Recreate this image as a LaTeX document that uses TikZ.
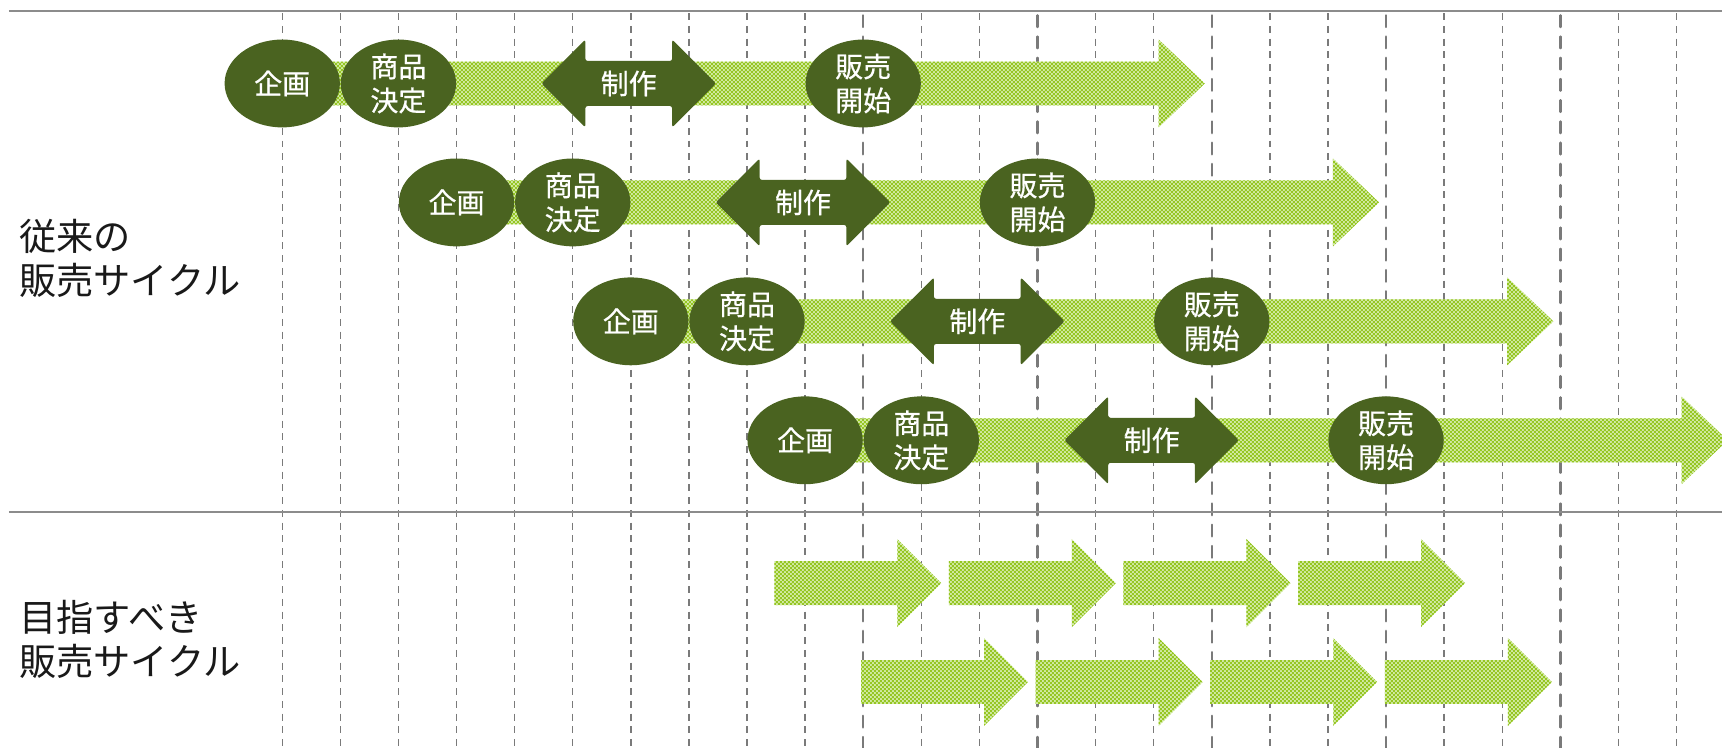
\documentclass[tikz,border=0pt]{standalone}
\usepackage{fontspec}
\setmainfont{Noto Sans CJK JP}
\newfontfamily\blobfont[FakeBold=0.6]{Noto Sans CJK JP}
\usetikzlibrary{patterns,shapes.geometric}
\definecolor{dkgreen}{HTML}{4A6320}
\definecolor{chkdark}{HTML}{96C623}
\definecolor{chklight}{HTML}{D2EAA4}
\definecolor{gridgray}{HTML}{7A7A7A}
\definecolor{rulegray}{HTML}{8C8C8C}
\pgfdeclarepatternformonly{finecheck}{\pgfpointorigin}{\pgfqpoint{2.07pt}{2.07pt}}{\pgfqpoint{2.07pt}{2.07pt}}{%
  \pgfpathrectangle{\pgfpointorigin}{\pgfqpoint{1.035pt}{1.035pt}}%
  \pgfpathrectangle{\pgfqpoint{1.035pt}{1.035pt}}{\pgfqpoint{1.035pt}{1.035pt}}%
  \pgfusepath{fill}}
\begin{document}
\begin{tikzpicture}[x=0.02cm,y=-0.02cm,
  chk/.style={fill=chklight, postaction={pattern=finecheck, pattern color=chkdark}},
  blob/.style={ellipse, fill=dkgreen, text=white, minimum width=2.1cm, minimum height=1.6cm,
    inner sep=0pt, align=center, font=\blobfont\fontsize{14.5pt}{17.6pt}\selectfont},
  maketext/.style={text=white, inner sep=0pt, font=\blobfont\fontsize{14.5pt}{17.6pt}\selectfont},
  gridthin/.style={draw=gridgray, line width=0.75pt, dash pattern=on 3.6pt off 3.0pt},
  gridbold/.style={draw=gridgray, line width=1.3pt, dash pattern=on 6pt off 5pt, line cap=round},
  rulestyle/.style={draw=rulegray, line width=1.1pt},
  lbl/.style={anchor=west, align=left, inner sep=0pt, text=black!90, font=\fontsize{19.3pt}{22.7pt}\selectfont}]
\useasboundingbox (0,0) rectangle (1568,681);
\clip (0,0) rectangle (1568,681);
% grid
\foreach \k in {0,1,2,3,4,5,6,7,8,9,11,12,14,15,17,18,20,21,23,24}
  \draw[gridthin] ({257+52.9*\k},12) -- ({257+52.9*\k},681);
\foreach \k in {10,13,16,19,22}
  \draw[gridbold] ({257+52.9*\k},14) -- ({257+52.9*\k},681);
\draw[rulestyle] (8,10) -- (1568,10);
\draw[rulestyle] (8,466) -- (1568,466);
% labels
\node[lbl] (old) at (17,235) {従来の\\販売サイクル};
\node[lbl] (goal) at (17,582) {目指すべき\\販売サイクル};
% conventional cycle rows
\foreach \i in {0,1,2,3} {
  \begin{scope}[shift={({257+158.7*\i},{76+108.3*\i})}]
    \path[chk] (0,-20) -- (798,-20) -- (798,-40) -- (840,0) -- (798,40) -- (798,20) -- (0,20) -- cycle;
    \path[fill=dkgreen, rounded corners=1.2pt] (236,0) -- (276,-40) -- (276,-20.5) -- (355,-20.5)
      -- (355,-40) -- (395,0) -- (355,40) -- (355,20.5) -- (276,20.5) -- (276,40) -- cycle;
    \node[maketext] (make\i) at (315.5,0) {制作};
    \node[blob] (plan\i) at (0,0) {企画};
    \node[blob] (prod\i) at (105.8,0) {商品\\決定};
    \node[blob] (sale\i) at (529,0) {販売\\開始};
  \end{scope}
}
% target cycle arrows
\foreach \j in {0,1,2,3} {
  \path[chk] ({705+159*\j},511) -- ++(112,0) -- ++(0,-20) -- ++(40,40) -- ++(-40,40)
    -- ++(0,-20) -- ++(-112,0) -- cycle;
  \path[chk] ({784+159*\j},601) -- ++(112,0) -- ++(0,-20) -- ++(40,40) -- ++(-40,40)
    -- ++(0,-20) -- ++(-112,0) -- cycle;
}
\end{tikzpicture}
\end{document}
